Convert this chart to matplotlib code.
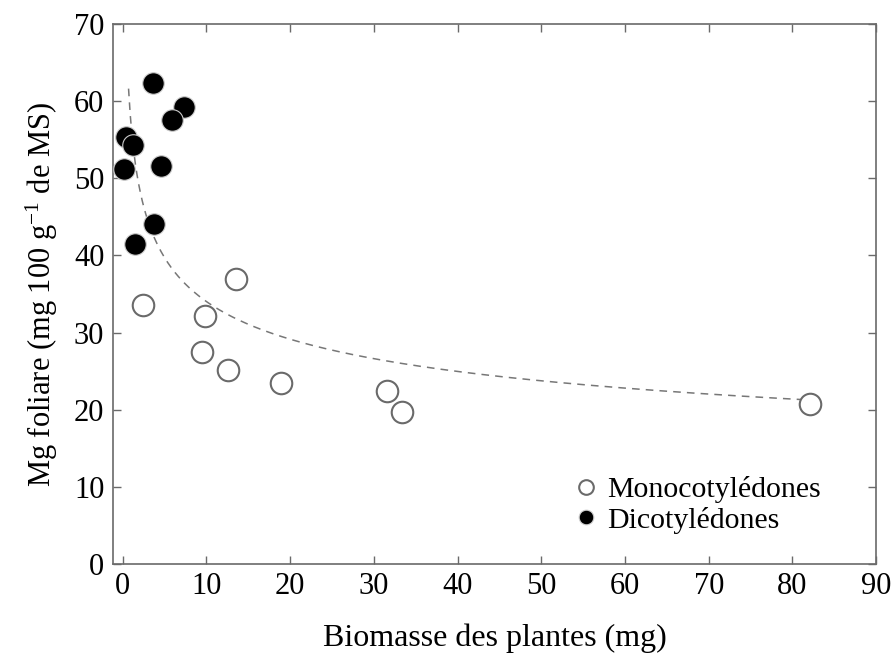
import numpy as np
import matplotlib
matplotlib.use('Agg')
import matplotlib.pyplot as plt

# Monocotylédones (open circles)
mono_x = [2.4, 13.5, 9.8, 9.5, 12.6, 18.9, 31.6, 33.4, 82.1]
mono_y = [33.6, 36.9, 32.1, 27.5, 25.1, 23.5, 22.4, 19.7, 20.7]

# Dicotylédones (filled circles)
dico_x = [3.6, 7.3, 5.9, 0.4, 1.2, 0.2, 4.6, 3.7, 1.5]
dico_y = [62.4, 59.2, 57.6, 55.4, 54.3, 51.2, 51.6, 44.1, 41.5]

# power fit y = a * x^b
fit_a = 56.9
fit_b = -0.2234
fit_range = (0.7, 82.0)

xticks = [0, 10, 20, 30, 40, 50, 60, 70, 80, 90]
yticks = [0, 10, 20, 30, 40, 50, 60, 70]

plt.rcParams['font.family'] = ['Liberation Serif', 'DejaVu Serif']
plt.rcParams['mathtext.default'] = 'regular'

grey = '#6a6a6a'

fig = plt.figure(figsize=(8.94, 6.57), dpi=100)
ax = fig.add_axes([0.126, 0.1416, 0.854, 0.8219])

xf = np.linspace(fit_range[0], fit_range[1], 400)
ax.plot(xf, fit_a * xf ** fit_b, linestyle=(0, (5, 4)), color='#777777', lw=1.1, zorder=1)

ax.plot(mono_x, mono_y, 'o', ms=15.5, mfc='white', mec=grey, mew=1.5,
        label='Monocotylédones', zorder=2)
ax.plot(dico_x, dico_y, 'o', ms=15.5, mfc='black', mec='#cccccc', mew=0.8,
        label='Dicotylédones', zorder=3)

ax.set_xlim(-1.2, 90)
ax.set_ylim(0, 70)
ax.set_xticks(xticks)
ax.set_yticks(yticks)
ax.tick_params(direction='in', length=6, width=1, color=grey, labelsize=22,
               top=True, right=True, pad=6)
for s in ax.spines.values():
    s.set_color(grey)
    s.set_linewidth(1.2)

ax.set_xlabel('Biomasse des plantes (mg)', fontsize=23, labelpad=16)
ax.set_ylabel(r'Mg foliare (mg 100 g$^{\mathregular{-1}}$ de MS)', fontsize=22, labelpad=10)

ax.legend(loc='lower right', bbox_to_anchor=(0.963, 0.006), frameon=False,
          fontsize=21.5, markerscale=0.68, handletextpad=0.1, labelspacing=0.12,
          handlelength=1.2)

fig.savefig('out.png', dpi=100)
